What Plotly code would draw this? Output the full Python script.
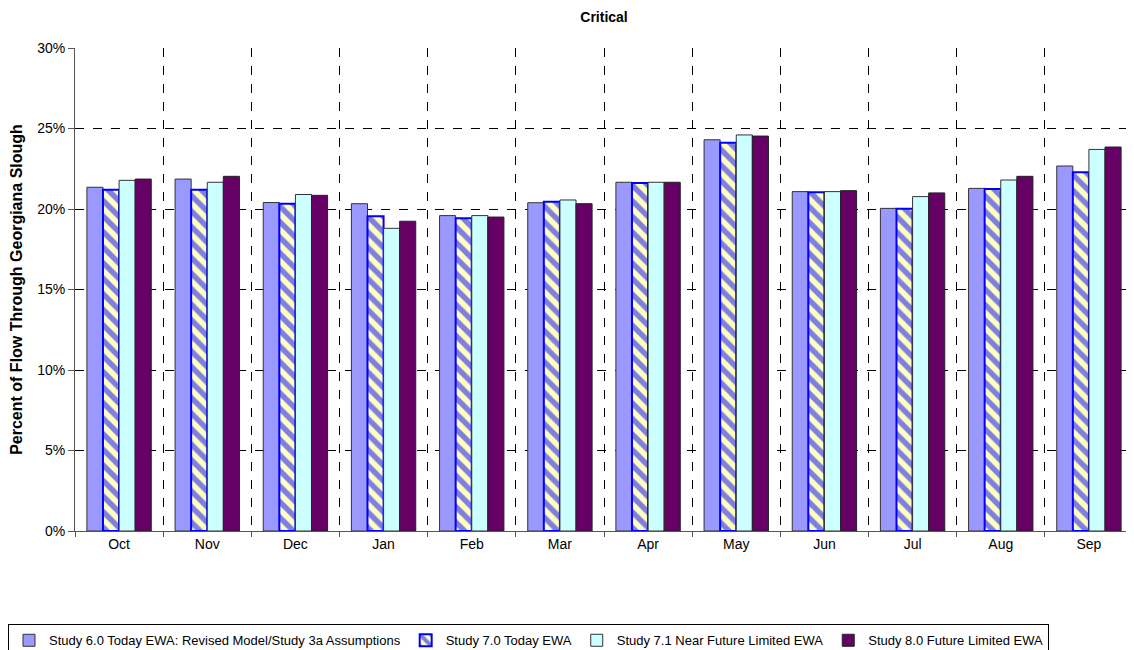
import plotly.graph_objects as go

months = ["Oct", "Nov", "Dec", "Jan", "Feb", "Mar", "Apr", "May", "Jun", "Jul", "Aug", "Sep"]

study_60 = [0.2135, 0.2186, 0.2040, 0.2033, 0.1959, 0.2039, 0.2166, 0.2430, 0.2108, 0.2004, 0.2128, 0.2267]
study_70 = [0.2120, 0.2120, 0.2033, 0.1955, 0.1942, 0.2045, 0.2161, 0.2412, 0.2104, 0.2002, 0.2124, 0.2228]
study_71 = [0.2178, 0.2166, 0.2090, 0.1880, 0.1959, 0.2056, 0.2166, 0.2460, 0.2108, 0.2077, 0.2180, 0.2370]
study_80 = [0.2186, 0.2203, 0.2085, 0.1924, 0.1950, 0.2033, 0.2166, 0.2453, 0.2114, 0.2100, 0.2203, 0.2385]

names = [
    "Study 6.0 Today EWA: Revised Model/Study 3a Assumptions",
    "Study 7.0 Today EWA",
    "Study 7.1 Near Future Limited EWA",
    "Study 8.0 Future Limited EWA",
]

FONT = "Liberation Sans, Arial, sans-serif"

fig = go.Figure()
fig.add_trace(go.Bar(
    x=months, y=study_60, name=names[0],
    marker=dict(color="#9999FF", line=dict(color="#333333", width=1)),
))
fig.add_trace(go.Bar(
    x=months, y=study_70, name=names[1],
    marker=dict(
        color="#FFFFC0",
        line=dict(color="#0000FF", width=2),
        pattern=dict(shape="\\", fgcolor="#0000FF", bgcolor="#FFFFC0", size=11, solidity=0.5),
    ),
))
fig.add_trace(go.Bar(
    x=months, y=study_71, name=names[2],
    marker=dict(color="#CCFFFF", line=dict(color="#333333", width=1)),
))
fig.add_trace(go.Bar(
    x=months, y=study_80, name=names[3],
    marker=dict(color="#660066", line=dict(color="#222222", width=1)),
))

# page body adds an 8px offset, so the figure is 8px smaller each way
fig.update_layout(
    width=1126, height=642,
    barmode="group", bargap=0.27, bargroupgap=0,
    paper_bgcolor="white", plot_bgcolor="white",
    margin=dict(l=67, r=1, t=40, b=119),
    font=dict(family=FONT, size=14, color="black"),
    title=dict(text="<b>Critical</b>", xref="paper", x=0.5, xanchor="center",
               y=0.986, yanchor="middle", font=dict(size=14, family=FONT)),
    legend=dict(
        orientation="h", xref="container", x=0, xanchor="left",
        yref="container", y=0.04, yanchor="top",
        bordercolor="black", borderwidth=1, font=dict(size=13),
        itemwidth=30, tracegroupgap=0,
    ),
)
fig.update_xaxes(
    type="category", tickson="boundaries",
    showgrid=True, gridcolor="black", griddash="dash", gridwidth=1,
    showline=True, linecolor="#555555", linewidth=1,
    ticks="outside", ticklen=5, tickcolor="#555555",
    tickfont=dict(size=14), automargin=False,
)
fig.update_yaxes(
    range=[0, 0.30], dtick=0.05, tickformat=".0%",
    showgrid=True, gridcolor="black", griddash="dash", gridwidth=1,
    showline=True, linecolor="#555555", linewidth=1,
    ticks="outside", ticklen=6, tickcolor="#555555",
    tickfont=dict(size=14), zeroline=False, automargin=False,
    title=dict(text="<b>Percent of Flow Through Georgiana Slough</b>", font=dict(size=16), standoff=18),
)

fig.write_html("out.html")
